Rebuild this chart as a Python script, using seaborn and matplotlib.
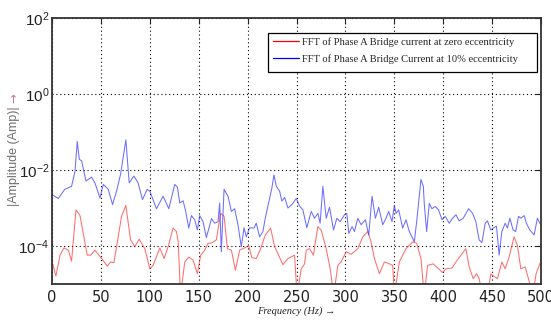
import numpy as np
import pandas as pd
import matplotlib
matplotlib.use("Agg")
import matplotlib.pyplot as plt
from matplotlib.patches import Rectangle
from matplotlib.ticker import FixedLocator, LogFormatterSciNotation, NullLocator
import seaborn as sns

# Spectrum at 10 % eccentricity: frequency (Hz) and log10 of amplitude (A)
freq_ecc = [0.7, 6.4, 13, 20, 23.5, 25.8, 27.9, 30.3, 34.7, 40.5, 43.9, 49, 52.4, 57.5,
            61.9, 66, 70.1, 75.5, 78.9, 83.7, 88, 92.5, 97.3, 100, 106.8, 113.6, 119.4,
            125.5, 128.2, 130.6, 134, 136.7, 139.8, 142.5, 145.9, 148.6, 151, 154.4,
            157.8, 163, 166.3, 169.7, 171.4, 173.1, 175.9, 179.9, 183.4, 186.7, 190.1,
            193.5, 196.3, 198.6, 202, 206.5, 208.8, 212.2, 215.6, 218, 222.4, 224.8,
            226.9, 229.3, 232.7, 235, 237.8, 241.2, 245.2, 249.7, 253.1, 256.5, 260.5,
            265, 268.4, 271.8, 274.1, 276.9, 280.3, 283.7, 287.8, 291.2, 294.6, 299,
            301.4, 303.4, 306.8, 309.2, 312.6, 316, 320.4, 323.8, 327.2, 330.6, 334,
            338.1, 341.5, 344.2, 347.6, 350, 351.7, 354.4, 358.5, 361.9, 365.3, 370.4,
            372.8, 377.2, 379.6, 380.6, 383, 385.7, 388.4, 391.8, 395.2, 398.7, 402,
            406.1, 409.5, 413, 416.3, 420.4, 425.9, 430, 433.3, 436.7, 439.5, 442.9,
            445.2, 448.6, 451, 454.4, 457.1, 459.9, 463.3, 465.6, 468.1, 471.4, 474.1,
            476.9, 479.3, 482.7, 485, 488.5, 492.9, 496.2, 498.7, 500]
logamp_ecc = [-2.66, -2.75, -2.51, -2.43, -2.03, -1.25, -1.72, -1.76, -2.29, -2.19, -2.34,
              -2.74, -2.38, -2.51, -2.91, -2.56, -2.11, -1.21, -2.34, -2.16, -2.34, -2.78,
              -2.51, -2.56, -3.02, -2.69, -3.02, -2.38, -2.45, -2.87, -2.81, -3.09, -3.53,
              -3.20, -3.31, -3.58, -3.20, -3.36, -3.78, -3.28, -3.40, -3.36, -2.87, -4.15,
              -2.51, -2.69, -3.09, -3.02, -3.44, -4.02, -3.52, -3.76, -3.52, -3.53, -3.40,
              -3.76, -3.62, -3.27, -2.75, -2.47, -2.13, -2.43, -2.56, -2.82, -2.72, -3.00,
              -2.91, -2.75, -2.95, -3.05, -3.52, -3.09, -3.27, -3.14, -3.40, -2.43, -3.27,
              -2.98, -3.58, -3.27, -3.36, -3.18, -3.14, -3.67, -3.49, -3.62, -3.27, -3.44,
              -3.31, -3.71, -2.69, -3.27, -2.98, -3.44, -3.27, -3.09, -3.36, -2.93, -3.14,
              -3.05, -3.53, -3.31, -3.62, -3.89, -3.36, -2.25, -2.43, -2.90, -3.62, -2.88,
              -3.02, -2.96, -3.05, -3.31, -3.22, -3.40, -3.27, -3.18, -3.34, -3.27, -3.02,
              -3.14, -3.36, -3.84, -3.91, -3.40, -3.34, -3.58, -3.53, -3.48, -4.24, -3.62,
              -3.40, -3.53, -3.27, -3.58, -3.62, -3.22, -3.27, -3.20, -3.40, -3.58, -3.71,
              -3.27, -3.40, -3.45]

# Spectrum at zero eccentricity: frequency (Hz) and log10 of amplitude (A)
freq_zero = [0.7, 4, 8.2, 12.2, 16.7, 20, 24.5, 28.6, 36, 39.5, 43.9, 50.7, 56.5, 59.9,
             63.3, 71.1, 75.5, 80.3, 84.7, 89.1, 94.9, 100, 103.4, 110.2, 114.6, 118.7,
             123.8, 127.2, 129, 131.4, 135.7, 139.8, 144.2, 148.6, 152, 156.1, 159.5, 163,
             168, 172.4, 175.9, 179.3, 183.4, 187.5, 191.8, 196.9, 201, 204.4, 208.8,
             213.3, 218, 223.5, 227.6, 231.6, 236, 241.2, 248, 250.5, 254.8, 258.2, 260,
             263.3, 267.3, 271.7, 275.2, 280.3, 284.4, 288, 292.2, 295.6, 300.7, 305.8,
             312.6, 317.7, 322.8, 326.2, 329.6, 334.7, 339.8, 344.9, 348.3, 350, 355.1,
             361.9, 368.7, 372.8, 377.2, 380.5, 384, 389.8, 395.2, 399.3, 402.7, 408.9,
             413, 418.1, 423.1, 426.5, 430.6, 434, 436.7, 440.1, 445.2, 448.6, 452, 455.4,
             459.9, 463.3, 467.3, 472.4, 475.8, 479.3, 483.7, 487.1, 491.5, 494.9, 498.7,
             500]
logamp_zero = [-4.47, -4.79, -4.24, -4.05, -4.11, -4.40, -3.05, -3.20, -4.24, -4.24, -4.11,
               -4.33, -4.53, -4.42, -4.44, -3.22, -2.93, -3.84, -4.02, -3.82, -4.07, -4.60,
               -4.51, -4.05, -4.33, -4.02, -3.53, -3.62, -3.89, -5.30, -4.42, -4.29, -4.37,
               -4.73, -4.24, -4.11, -3.93, -3.92, -3.84, -3.14, -3.22, -4.07, -4.11, -4.64,
               -4.11, -4.05, -3.99, -4.31, -4.33, -4.07, -3.71, -3.53, -4.02, -4.24, -4.49,
               -4.33, -4.24, -5.30, -4.60, -4.47, -4.11, -4.07, -4.24, -3.49, -3.58, -4.07,
               -4.60, -5.30, -4.51, -4.42, -4.15, -4.22, -4.07, -3.76, -3.62, -3.89, -4.33,
               -4.73, -4.42, -4.47, -4.51, -5.30, -4.42, -4.07, -3.89, -3.93, -4.33, -5.30,
               -4.51, -4.47, -4.60, -4.70, -4.60, -4.58, -4.42, -4.24, -4.07, -4.55, -4.86,
               -4.73, -4.86, -5.30, -5.30, -4.73, -4.80, -4.86, -4.42, -4.60, -4.29, -3.76,
               -3.98, -4.60, -4.55, -4.86, -5.30, -4.73, -4.47, -4.40]

labels = ["FFT of Phase A Bridge current at zero eccentricity",
          "FFT of Phase A Bridge Current at 10% eccentricity"]
x_ticks = list(range(0, 501, 50))
y_ticks = [1e-4, 1e-2, 1e0, 1e2]

df_zero = pd.DataFrame({"f": freq_zero, "amp": 10.0 ** np.array(logamp_zero)})
df_ecc = pd.DataFrame({"f": freq_ecc, "amp": 10.0 ** np.array(logamp_ecc)})

sns.set_theme(style="white")
plt.rcParams["font.family"] = ["DejaVu Sans"]
plt.rcParams["mathtext.default"] = "regular"

fig = plt.figure(figsize=(5.51, 3.20), dpi=100)
ax = fig.add_axes([0.0944, 0.1125, 0.8876, 0.8315])

sns.lineplot(data=df_zero, x="f", y="amp", ax=ax, color="#ff3030", lw=0.75, alpha=0.7,
             estimator=None, sort=False, legend=False)
sns.lineplot(data=df_ecc, x="f", y="amp", ax=ax, color="#3030ff", lw=0.75, alpha=0.7,
             estimator=None, sort=False, legend=False)

ax.set_yscale("log")
ax.set_xlim(0, 500)
ax.set_ylim(1e-5, 1e2)
ax.xaxis.set_major_locator(FixedLocator(x_ticks))
ax.yaxis.set_major_locator(FixedLocator(y_ticks))
ax.yaxis.set_minor_locator(NullLocator())
ax.yaxis.set_major_formatter(LogFormatterSciNotation())

ax.grid(True, which="major", color="black", linestyle=(0, (1, 2.5)), lw=0.8)
ax.tick_params(axis="both", which="major", direction="in", length=4, width=0.8,
               top=True, right=True, colors="#222222")
ax.tick_params(axis="x", labelsize=10.5, pad=4)
ax.tick_params(axis="y", labelsize=11, pad=2, labelfontfamily="Liberation Sans")
for s in ax.spines.values():
    s.set_color("#333333")
    s.set_linewidth(1.3)

ax.set_xlabel("Frequency (Hz) \u2192", family=["Liberation Serif", "DejaVu Serif"],
              style="italic", fontsize=7.5, color="#222222", va="top")
ax.xaxis.set_label_coords(0.5, -0.085)

ax.set_ylabel("|Amplitude (Amp)|", family=["Liberation Sans"], fontsize=9,
              color="#707070", va="center")
ax.yaxis.set_label_coords(-0.0775, 0.481)
ax.text(-0.0775, 0.699, "\u2192", transform=ax.transAxes, rotation=90, ha="center",
        va="center", fontsize=8.5, color="#c87890")

# Legend box spanning the upper right of the plot area
box_x0, box_x1, box_y0, box_y1 = 0.4417, 0.9912, 0.7959, 0.9447
ax.add_patch(Rectangle((box_x0, box_y0), box_x1 - box_x0, box_y1 - box_y0,
                       transform=ax.transAxes, facecolor="white", edgecolor="black",
                       lw=0.9, zorder=4))
handles = [plt.Line2D([], [], color="red", lw=0.9), plt.Line2D([], [], color="blue", lw=0.9)]
leg = ax.legend(handles, labels, loc="upper left", bbox_to_anchor=(box_x0, box_y1),
                prop={"family": "Liberation Serif", "size": 7.6}, frameon=False,
                handlelength=2.45, borderpad=0.45, labelspacing=0.68, handletextpad=0.3,
                borderaxespad=0)
leg.set_zorder(5)

fig.savefig("out.png", dpi=100)
